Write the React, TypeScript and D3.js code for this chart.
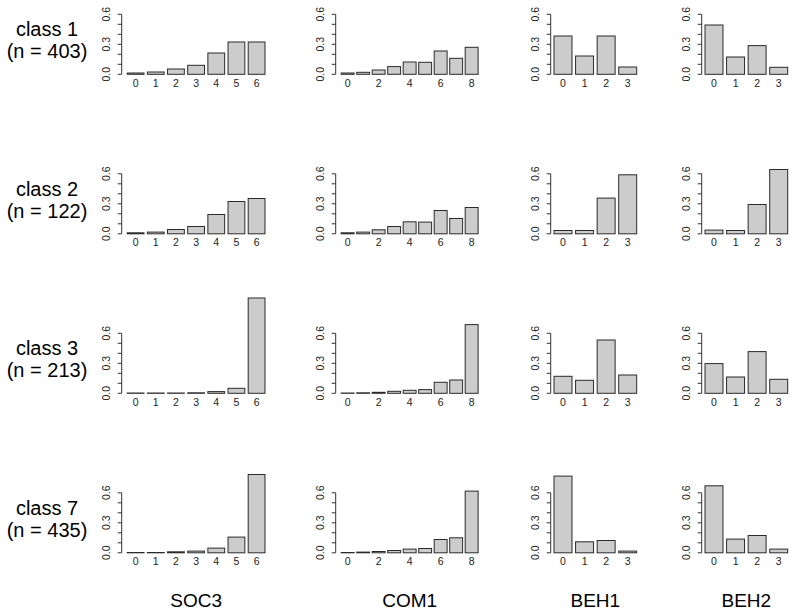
import React from "react";
import * as d3 from "d3";

const classLabels = ["class 1", "class 2", "class 3", "class 7"];
const classSizes = [403, 122, 213, 435];
const variableNames = ["SOC3", "COM1", "BEH1", "BEH2"];

const soc3Categories = ["0", "1", "2", "3", "4", "5", "6"];
const com1Categories = ["0", "1", "2", "3", "4", "5", "6", "7", "8"];
const beh1Categories = ["0", "1", "2", "3"];
const beh2Categories = ["0", "1", "2", "3"];

const soc3Shown = ["0", "1", "2", "3", "4", "5", "6"];
const com1Shown = ["0", "2", "4", "6", "8"];
const beh1Shown = ["0", "1", "2", "3"];
const beh2Shown = ["0", "1", "2", "3"];

const soc3Values = [
  [0.013, 0.023, 0.053, 0.09, 0.213, 0.323, 0.323],
  [0.01, 0.017, 0.043, 0.073, 0.193, 0.323, 0.353],
  [0.003, 0.003, 0.003, 0.005, 0.017, 0.05, 0.953],
  [0.003, 0.003, 0.01, 0.017, 0.047, 0.157, 0.783],
];
const com1Values = [
  [0.013, 0.02, 0.043, 0.077, 0.123, 0.12, 0.233, 0.16, 0.27],
  [0.01, 0.017, 0.04, 0.073, 0.12, 0.117, 0.233, 0.153, 0.263],
  [0.003, 0.005, 0.01, 0.02, 0.03, 0.037, 0.11, 0.133, 0.687],
  [0.003, 0.007, 0.013, 0.023, 0.037, 0.043, 0.133, 0.15, 0.617],
];
const beh1Values = [
  [0.383, 0.183, 0.383, 0.073],
  [0.033, 0.033, 0.357, 0.59],
  [0.17, 0.13, 0.533, 0.183],
  [0.767, 0.11, 0.123, 0.017],
];
const beh2Values = [
  [0.493, 0.173, 0.287, 0.07],
  [0.037, 0.033, 0.293, 0.643],
  [0.297, 0.163, 0.417, 0.14],
  [0.67, 0.137, 0.173, 0.037],
];

const yTicks = [0, 0.1, 0.2, 0.3, 0.4, 0.5, 0.6];
const yTickLabels = [0, 0.3, 0.6];

const columns = [
  { cats: soc3Categories, shown: soc3Shown, values: soc3Values, left: 121.7, width: 148.8 },
  { cats: com1Categories, shown: com1Shown, values: com1Values, left: 335.7, width: 147.9 },
  { cats: beh1Categories, shown: beh1Shown, values: beh1Values, left: 550.7, width: 89.3 },
  { cats: beh2Categories, shown: beh2Shown, values: beh2Values, left: 701.7, width: 89.3 },
];

const FONT = "'Liberation Sans', Arial, Helvetica, sans-serif";
const firstBase = 74.3;
const rowStep = 159.5;
const pxPerUnit = 100;

function Panel({ col, row }: { col: any; row: number }) {
  const n = col.cats.length;
  const r = n * 1.2 - 0.2;
  const x = d3
    .scaleLinear()
    .domain([0.2 - 0.04 * r, 0.2 + r + 0.04 * r])
    .range([col.left, col.left + col.width]);
  const base = firstBase + row * rowStep;
  const y = d3.scaleLinear().domain([0, 1]).range([base, base - pxPerUnit]);
  const vals: number[] = col.values[row];
  const axisX = col.left;
  return (
    <g>
      {vals.map((v, i) => {
        const x0 = x(0.2 + 1.2 * i);
        const x1 = x(1.2 + 1.2 * i);
        return (
          <rect
            key={i}
            x={x0}
            y={y(v)}
            width={x1 - x0}
            height={y(0) - y(v)}
            fill="#cccccc"
            stroke="#2a2a2a"
            strokeWidth={1}
          />
        );
      })}
      <line x1={axisX} x2={axisX} y1={y(0)} y2={y(0.6)} stroke="#333" strokeWidth={1} />
      {yTicks.map((t) => (
        <line key={t} x1={axisX - 4} x2={axisX} y1={y(t)} y2={y(t)} stroke="#333" strokeWidth={1} />
      ))}
      {yTickLabels.map((t) => (
        <text
          key={t}
          transform={`translate(${axisX - 11.5},${y(t)}) rotate(-90)`}
          textAnchor="middle"
          fontSize={10.5}
          fontFamily={FONT}
          fill="#222"
        >
          {t.toFixed(1)}
        </text>
      ))}
      {col.cats.map((c: string, i: number) =>
        col.shown.includes(c) ? (
          <text
            key={c}
            x={x(0.7 + 1.2 * i)}
            y={base + 12.5}
            textAnchor="middle"
            fontSize={10.5}
            fontFamily={FONT}
            fill="#222"
          >
            {c}
          </text>
        ) : null
      )}
    </g>
  );
}

export default function App() {
  return (
    <svg
      width={800}
      height={616}
      style={{ position: "absolute", left: 0, top: 0, background: "#fff" }}
    >
      <rect x={0} y={0} width={800} height={616} fill="#fff" />
      {classLabels.map((lab, row) => {
        const base = firstBase + row * rowStep;
        return (
          <g key={lab}>
            <text x={47} y={base - 38} textAnchor="middle" fontSize={20} fontFamily={FONT} fill="#000">
              {lab}
            </text>
            <text x={47} y={base - 16} textAnchor="middle" fontSize={20} fontFamily={FONT} fill="#000">
              {`(n = ${classSizes[row]})`}
            </text>
          </g>
        );
      })}
      {columns.map((col, ci) =>
        classLabels.map((_, row) => <Panel key={`${ci}-${row}`} col={col} row={row} />)
      )}
      {variableNames.map((name, ci) => (
        <text
          key={name}
          x={columns[ci].left + columns[ci].width / 2}
          y={607}
          textAnchor="middle"
          fontSize={19}
          fontFamily={FONT}
          fill="#000"
        >
          {name}
        </text>
      ))}
    </svg>
  );
}
